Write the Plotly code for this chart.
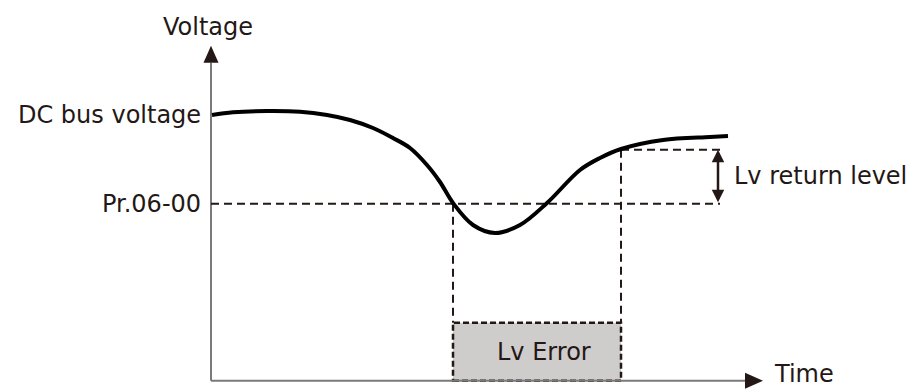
import plotly.graph_objects as go

# ---- data (abstract time / voltage units) ----
curve_t = [1, 22, 56, 89, 116, 139, 162, 182, 199, 216, 229, 242, 262, 284, 309, 336, 369, 389, 410, 452, 499, 517]
curve_v = [265.7, 268.4, 269.7, 269, 265.7, 260.7, 252.7, 242.7, 232.7, 215.7, 198.7, 177.7, 155.7, 147.7,
           155.7, 177.7, 210.7, 222.7, 231.7, 240.7, 243.7, 244.7]

dc_bus_level = 266
pr_level = 177
return_level = 231
t_trip = 242
t_return = 410
dash_end = 509
arrow_x = 507
box_top = 58
axis_x_end = 534
axis_y_end = 318

labels = {
    "voltage": "Voltage",
    "time": "Time",
    "dc": "DC bus voltage",
    "pr": "Pr.06-00",
    "ret": "Lv return level",
    "err": "Lv Error",
}

INK = "#231815"
AX = "#7a7a7a"
FONT = dict(family="DejaVu Sans", size=24, color=INK)
DASH = "8px,5px"

fig = go.Figure()

# axes
fig.add_trace(go.Scatter(x=[0, 0], y=[0, axis_y_end], mode="lines",
                         line=dict(color=AX, width=2), hoverinfo="skip"))
fig.add_trace(go.Scatter(x=[0, axis_x_end], y=[0, 0], mode="lines",
                         line=dict(color=AX, width=2), hoverinfo="skip"))

# Lv error box
fig.add_shape(type="rect", x0=t_trip, x1=t_return, y0=0, y1=box_top,
              fillcolor="#cfcccc", line=dict(color=INK, width=2.5, dash="6px,3px"), layer="below")

# dashed guides
fig.add_trace(go.Scatter(x=[0, dash_end], y=[pr_level, pr_level], mode="lines",
                         line=dict(color=INK, width=2, dash=DASH), hoverinfo="skip"))
fig.add_trace(go.Scatter(x=[t_return, dash_end], y=[return_level, return_level], mode="lines",
                         line=dict(color=INK, width=2, dash=DASH), hoverinfo="skip"))
fig.add_trace(go.Scatter(x=[t_trip, t_trip], y=[pr_level, box_top], mode="lines",
                         line=dict(color=INK, width=2, dash=DASH), hoverinfo="skip"))
fig.add_trace(go.Scatter(x=[t_return, t_return], y=[return_level, box_top], mode="lines",
                         line=dict(color=INK, width=2, dash=DASH), hoverinfo="skip"))

# voltage curve
fig.add_trace(go.Scatter(x=curve_t, y=curve_v, mode="lines",
                         line=dict(color="#000000", width=4, shape="spline", smoothing=1.0),
                         hoverinfo="skip"))

# axis arrow heads
ya_tip = axis_y_end + 17
fig.add_shape(type="path", path=f"M -7.5 {axis_y_end} L 7.5 {axis_y_end} L 0 {ya_tip} Z",
              fillcolor=INK, line=dict(width=0))
xa_tip = axis_x_end + 18
fig.add_shape(type="path", path=f"M {axis_x_end} -8 L {axis_x_end} 8 L {xa_tip} 0 Z",
              fillcolor=INK, line=dict(width=0))

# double arrow for return level
fig.add_annotation(x=arrow_x, y=return_level, ax=arrow_x, ay=pr_level, xref="x", yref="y",
                   axref="x", ayref="y", text="", showarrow=True, arrowhead=2, startarrowhead=2,
                   arrowside="end+start", arrowwidth=2.5, arrowsize=1, startarrowsize=1, arrowcolor=INK)

# texts
fig.add_annotation(x=-3, y=354, text=labels["voltage"], showarrow=False, xanchor="center", yanchor="middle", font=FONT)
fig.add_annotation(x=-8, y=dc_bus_level, text=labels["dc"], showarrow=False, xanchor="right", yanchor="middle", font=FONT)
fig.add_annotation(x=-8, y=pr_level, text=labels["pr"], showarrow=False, xanchor="right", yanchor="middle", font=FONT)
fig.add_annotation(x=521, y=205, text=labels["ret"], showarrow=False, xanchor="left", yanchor="middle", font=FONT)
fig.add_annotation(x=284, y=29, text=labels["err"], showarrow=False, xanchor="left", yanchor="middle", font=FONT)
fig.add_annotation(x=562, y=0, yref="paper", text=labels["time"], showarrow=False, xanchor="left",
                   yanchor="bottom", font=FONT, borderpad=0)

# page body has an 8px margin: size the figure to fit the window exactly
fig.update_layout(
    width=907, height=381, margin=dict(l=0, r=0, t=0, b=0),
    paper_bgcolor="white", plot_bgcolor="white", showlegend=False,
    xaxis=dict(range=[-203, 704], visible=False, fixedrange=True),
    yaxis=dict(range=[-8.3, 372.7], visible=False, fixedrange=True),
)

fig.write_html("out.html")
